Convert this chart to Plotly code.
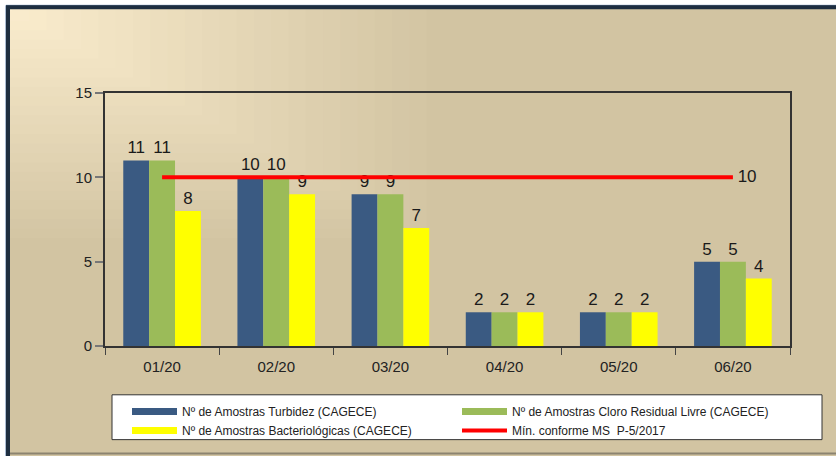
import plotly.graph_objects as go

categories = ["01/20", "02/20", "03/20", "04/20", "05/20", "06/20"]
turbidez = [11, 10, 9, 2, 2, 5]
cloro = [11, 10, 9, 2, 2, 5]
bacterio = [8, 9, 7, 2, 2, 4]
minimo = [10, 10, 10, 10, 10, 10]
yticks = [0, 5, 10, 15]

names = ["Nº de Amostras Turbidez (CAGECE)",
         "Nº de Amostras Cloro Residual Livre (CAGECE)",
         "Nº de Amostras Bacteriológicas (CAGECE)",
         "Mín. conforme MS  P-5/2017"]
colors = ["#3A5A82", "#9BBB59", "#FFFF00", "#FF0000"]

W, H = 836, 456
L, R, T, B = 105, 790, 93, 347


def px(x):
    return (x - L) / (R - L)


def py(y):
    return (B - y) / (B - T)


font = "Liberation Sans, Arial, sans-serif"
fig = go.Figure()

for vals, nm, col in zip([turbidez, cloro, bacterio], names[:3], colors[:3]):
    fig.add_trace(go.Bar(
        x=categories, y=vals, name=nm, marker=dict(color=col, line=dict(width=0)),
        text=[str(v) for v in vals], textposition="outside", cliponaxis=False,
        textfont=dict(size=17, color="#1a1a1a", family=font), showlegend=False))

fig.add_trace(go.Scatter(
    x=categories, y=minimo, mode="lines+text", name=names[3],
    line=dict(color=colors[3], width=4),
    text=[""] * (len(minimo) - 1) + ["\u00a0" + str(minimo[-1])],
    textposition="middle right", textfont=dict(size=17, color="#1a1a1a", family=font),
    showlegend=False, cliponaxis=False))

# legend swatches
for nm, col, wd in zip(names, colors, [7, 7, 7, 4]):
    fig.add_trace(go.Scatter(x=[None], y=[None], mode="lines", name=nm,
                             line=dict(color=col, width=wd), showlegend=True))

shapes = []
bg = (210, 196, 162)
light = (251, 237, 206)
# outer frame
shapes.append(dict(type="rect", xref="paper", yref="paper", layer="below",
                   x0=px(6), x1=px(842), y0=py(470), y1=py(5),
                   line=dict(color="#5A7DA8", width=1), fillcolor="rgb(210,196,162)"))
N = 26
for i in range(N):
    f = i / (N - 1)
    c = tuple(int(round(bg[k] + (light[k] - bg[k]) * f)) for k in range(3))
    x1 = 8 + (440 - 8) * (1 - f) + 4
    y1 = 8 + (245 - 8) * (1 - f) + 3
    shapes.append(dict(type="rect", xref="paper", yref="paper", layer="below",
                       x0=px(9), x1=px(x1), y0=py(y1), y1=py(8),
                       line=dict(width=0), fillcolor="rgb(%d,%d,%d)" % c))
shapes.append(dict(type="rect", xref="paper", yref="paper", layer="below",
                   x0=px(8), x1=px(842), y0=py(470), y1=py(7),
                   line=dict(color="#1E2E40", width=4), fillcolor="rgba(0,0,0,0)"))
shapes.append(dict(type="line", xref="paper", yref="paper", layer="below",
                   x0=px(10), x1=px(842), y0=py(455), y1=py(455),
                   line=dict(color="#8C8470", width=2)))
# legend box
shapes.append(dict(type="rect", xref="paper", yref="paper", layer="below",
                   x0=px(112), x1=px(822), y0=py(441), y1=py(396),
                   line=dict(color="#333", width=1), fillcolor="white"))

fig.update_layout(
    width=W, height=H,
    margin=dict(l=L, r=W - R, t=T, b=H - B),
    paper_bgcolor="white", plot_bgcolor="rgba(0,0,0,0)",
    barmode="group", bargap=0.32, bargroupgap=0,
    font=dict(family=font, size=13, color="#222"),
    shapes=shapes,
    xaxis=dict(type="category", showline=True, linecolor="#333", linewidth=2, mirror=True,
               ticks="outside", tickson="boundaries", ticklen=7, tickcolor="#444",
               tickwidth=1, tickfont=dict(size=15, color="#222"), showgrid=False,
               ticklabelstandoff=6),
    yaxis=dict(range=[0, 15], tickvals=yticks, showline=True, linecolor="#333", linewidth=2,
               mirror=True, ticks="outside", ticklen=8, tickcolor="#777", tickwidth=2,
               tickfont=dict(size=15, color="#222"), showgrid=False, zeroline=False),
    legend=dict(orientation="h", x=px(127), y=py(397), xanchor="left", yanchor="top",
                bgcolor="rgba(0,0,0,0)", borderwidth=0,
                font=dict(size=12, color="#222", family=font),
                entrywidth=270, entrywidthmode="pixels", itemwidth=45,
                traceorder="normal", tracegroupgap=0),
)

fig.write_html("out.html", config={"displayModeBar": False},
               post_script="document.body.style.margin='0';")
